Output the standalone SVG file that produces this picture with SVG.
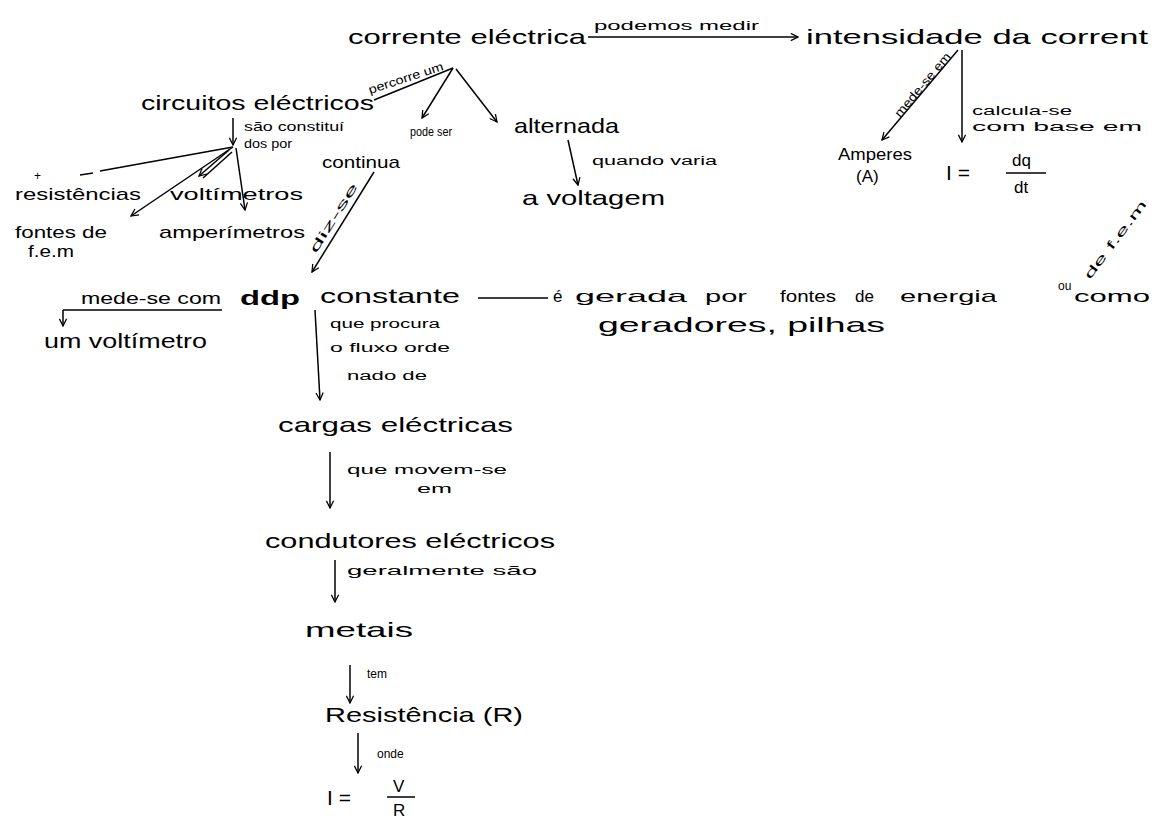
<svg xmlns="http://www.w3.org/2000/svg" width="1157" height="823" viewBox="0 0 1157 823">
<defs>
<marker id="ah" viewBox="0 0 10 10" refX="9" refY="5" markerWidth="9" markerHeight="9" markerUnits="userSpaceOnUse" orient="auto">
<path d="M1,1 L9,5 L1,9" fill="none" stroke="#000" stroke-width="1.4"/>
</marker>
<style>
text{font-family:"Liberation Sans","DejaVu Sans",sans-serif;fill:#000}
.n{font-size:21px}
.m{font-size:17px}
.l{font-size:12px}
.c line,.c path{stroke:#000;stroke-width:1.5;fill:none}
.a{marker-end:url(#ah)}
</style>
</defs>
<rect width="1157" height="823" fill="#fff"/>
<g class="c" id="connectors">
<line class="a" x1="588" y1="37" x2="798" y2="37"/>
<line x1="453" y1="68" x2="374" y2="100"/>
<line class="a" x1="453" y1="68" x2="422" y2="118"/>
<line class="a" x1="456" y1="69" x2="497" y2="122"/>
<line class="a" x1="958" y1="50" x2="882" y2="140"/>
<line class="a" x1="962" y1="50" x2="962" y2="142"/>
<line class="a" x1="568" y1="140" x2="578" y2="185"/>
<line class="a" x1="233" y1="118" x2="233" y2="145"/>
<line x1="233" y1="147" x2="100" y2="171"/>
<line x1="80" y1="175" x2="93" y2="173"/>
<line class="a" x1="233" y1="147" x2="131" y2="216"/>
<line class="a" x1="229" y1="150" x2="199" y2="176"/>
<line x1="232" y1="152" x2="203" y2="178"/>
<line class="a" x1="236" y1="148" x2="245" y2="210"/>
<line class="a" x1="374" y1="172" x2="312" y2="272"/>
<line x1="222" y1="310" x2="63" y2="310"/>
<line class="a" x1="63" y1="310" x2="63" y2="326"/>
<line x1="478" y1="298" x2="548" y2="298"/>
<line class="a" x1="315" y1="310" x2="320" y2="400"/>
<line class="a" x1="330" y1="452" x2="330" y2="508"/>
<line class="a" x1="335" y1="560" x2="335" y2="602"/>
<line class="a" x1="350" y1="665" x2="350" y2="703"/>
<line class="a" x1="358" y1="733" x2="358" y2="773"/>
<line x1="1006" y1="173" x2="1046" y2="173"/>
<line x1="387" y1="797" x2="415" y2="797"/>
</g>
<g id="labels">
<text class="l" x="594" y="30" font-size="13" textLength="165" lengthAdjust="spacingAndGlyphs">podemos medir</text>
<text class="l" transform="translate(370,94) rotate(-18)" textLength="78" lengthAdjust="spacingAndGlyphs">percorre um</text>
<text class="l" x="410" y="136" textLength="42" lengthAdjust="spacingAndGlyphs">pode ser</text>
<text class="l" x="592" y="165" textLength="125" lengthAdjust="spacingAndGlyphs">quando varia</text>
<text class="l" x="244" y="131" textLength="100" lengthAdjust="spacingAndGlyphs">são constituí</text>
<text class="l" x="244" y="148" textLength="48" lengthAdjust="spacingAndGlyphs">dos por</text>
<text class="l" x="34" y="180">+</text>
<text class="l" transform="translate(900,118) rotate(-50)" textLength="80" lengthAdjust="spacingAndGlyphs">mede-se em</text>
<text class="l" x="972" y="115" font-size="13" textLength="100" lengthAdjust="spacingAndGlyphs">calcula-se</text>
<text class="l" x="972" y="131" font-size="13" textLength="170" lengthAdjust="spacingAndGlyphs">com base em</text>
<text class="l" transform="translate(316,254) rotate(-58)" font-size="13" textLength="80" lengthAdjust="spacingAndGlyphs">diz-se</text>
<text class="l" x="330" y="328" textLength="110" lengthAdjust="spacingAndGlyphs">que procura</text>
<text class="l" x="330" y="352" textLength="120" lengthAdjust="spacingAndGlyphs">o fluxo orde</text>
<text class="l" x="347" y="380" textLength="80" lengthAdjust="spacingAndGlyphs">nado de</text>
<text class="l" x="347" y="474" textLength="160" lengthAdjust="spacingAndGlyphs">que movem-se</text>
<text class="l" x="417" y="493" textLength="35" lengthAdjust="spacingAndGlyphs">em</text>
<text class="l" x="347" y="575" textLength="190" lengthAdjust="spacingAndGlyphs">geralmente são</text>
<text class="l" x="367" y="678">tem</text>
<text class="l" x="377" y="758">onde</text>
<text class="l" x="1058" y="290" font-size="9">ou</text>
<text class="l" transform="translate(1090,280) rotate(-53)" font-size="12" textLength="95" lengthAdjust="spacingAndGlyphs">de f.e.m</text>
</g>
<g id="n-corrente"><text class="n" x="348" y="44" textLength="238" lengthAdjust="spacingAndGlyphs">corrente eléctrica</text></g>
<g id="n-intensidade"><text class="n" x="806" y="44" textLength="342" lengthAdjust="spacingAndGlyphs">intensidade da corrent</text></g>
<g id="n-circuitos"><text class="n" x="141" y="110" textLength="233" lengthAdjust="spacingAndGlyphs">circuitos eléctricos</text></g>
<g id="n-continua"><text class="m" x="322" y="168" textLength="78" lengthAdjust="spacingAndGlyphs">continua</text></g>
<g id="n-alternada"><text class="n" x="514" y="133" textLength="105" lengthAdjust="spacingAndGlyphs">alternada</text></g>
<g id="n-voltagem"><text class="n" x="522" y="205" textLength="143" lengthAdjust="spacingAndGlyphs">a voltagem</text></g>
<g id="n-amperes"><text class="m" x="838" y="160" textLength="74" lengthAdjust="spacingAndGlyphs">Amperes</text><text class="m" x="856" y="182">(A)</text></g>
<g id="n-formula1"><text class="n" x="946" y="180">I =</text><text class="m" x="1012" y="166">dq</text><text class="m" x="1014" y="193">dt</text></g>
<g id="n-resistencias"><text class="m" x="15" y="200" textLength="126" lengthAdjust="spacingAndGlyphs">resistências</text></g>
<g id="n-voltimetros"><text class="m" x="170" y="200" textLength="133" lengthAdjust="spacingAndGlyphs">voltímetros</text></g>
<g id="n-fontes"><text class="m" x="15" y="238" textLength="92" lengthAdjust="spacingAndGlyphs">fontes de</text><text class="m" x="28" y="257" textLength="46" lengthAdjust="spacingAndGlyphs">f.e.m</text></g>
<g id="n-amperimetros"><text class="m" x="159" y="238" textLength="146" lengthAdjust="spacingAndGlyphs">amperímetros</text></g>
<g id="n-medecom"><text class="m" x="81" y="304" textLength="140" lengthAdjust="spacingAndGlyphs">mede-se com</text></g>
<g id="n-voltimetro"><text class="n" x="44" y="348" textLength="163" lengthAdjust="spacingAndGlyphs">um voltímetro</text></g>
<g id="n-ddp"><text class="n" x="240" y="305" font-size="28" font-weight="bold" textLength="60" lengthAdjust="spacingAndGlyphs">ddp</text><text class="n" x="320" y="303" textLength="140" lengthAdjust="spacingAndGlyphs">constante</text></g>
<g id="n-gerada"><text class="m" x="553" y="302">é</text><text class="m" x="575" y="302" textLength="112" lengthAdjust="spacingAndGlyphs">gerada</text><text class="m" x="705" y="302" textLength="42" lengthAdjust="spacingAndGlyphs">por</text><text class="m" x="780" y="302" textLength="56" lengthAdjust="spacingAndGlyphs">fontes</text><text class="m" x="855" y="302">de</text><text class="m" x="900" y="302" textLength="97" lengthAdjust="spacingAndGlyphs">energia</text><text class="m" x="1074" y="302" textLength="76" lengthAdjust="spacingAndGlyphs">como</text></g>
<g id="n-geradores"><text class="n" x="598" y="332" textLength="287" lengthAdjust="spacingAndGlyphs">geradores, pilhas</text></g>
<g id="n-cargas"><text class="n" x="278" y="432" textLength="235" lengthAdjust="spacingAndGlyphs">cargas eléctricas</text></g>
<g id="n-condutores"><text class="n" x="265" y="548" textLength="290" lengthAdjust="spacingAndGlyphs">condutores eléctricos</text></g>
<g id="n-metais"><text class="n" x="305" y="637" textLength="108" lengthAdjust="spacingAndGlyphs">metais</text></g>
<g id="n-resistencia"><text class="n" x="325" y="722" textLength="198" lengthAdjust="spacingAndGlyphs">Resistência (R)</text></g>
<g id="n-formula2"><text class="n" x="327" y="805">I =</text><text class="m" x="393" y="792">V</text><text class="m" x="393" y="816">R</text></g>
</svg>
